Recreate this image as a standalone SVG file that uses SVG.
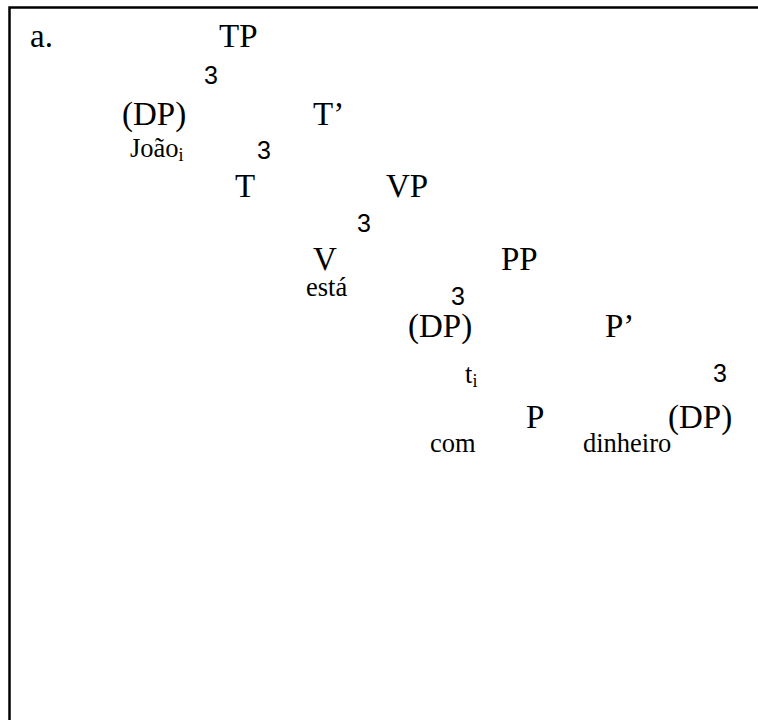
<svg xmlns="http://www.w3.org/2000/svg" width="758" height="720" viewBox="0 0 758 720">
<style>
.lab{font-family:"Liberation Serif","Times New Roman",serif;font-size:33px;fill:#000}
.word{font-family:"Liberation Serif","Times New Roman",serif;font-size:26.5px;fill:#000}
.sub{font-size:18px}
.br{font-family:"Liberation Sans",Arial,sans-serif;font-size:25px;fill:#000}
.frame{fill:none;stroke:#000;stroke-width:2.5}
</style>
<rect width="758" height="720" fill="#fff"/>
<path class="frame" d="M9.5,720 V7.5 H758"/>
<text class="lab" x="30" y="47">a.</text>
<g id="TP"><text class="lab" x="219" y="47">TP</text></g>
<g id="DP1"><text class="lab" x="122" y="125">(DP)</text><text class="word" x="130" y="157">João<tspan class="sub" dy="4">i</tspan></text></g>
<g id="Tbar"><text class="lab" x="313" y="125">T’</text></g>
<g id="T"><text class="lab" x="235" y="197">T</text></g>
<g id="VP"><text class="lab" x="386" y="197">VP</text></g>
<g id="V"><text class="lab" x="313" y="270">V</text><text class="word" x="306" y="296">está</text></g>
<g id="PP"><text class="lab" x="501" y="270">PP</text></g>
<g id="DP2"><text class="lab" x="408" y="337">(DP)</text><text class="word" x="465" y="383">t<tspan class="sub" dy="4">i</tspan></text></g>
<g id="Pbar"><text class="lab" x="605" y="337">P’</text></g>
<g id="P"><text class="lab" x="526" y="428">P</text><text class="word" x="430" y="452">com</text></g>
<g id="DP3"><text class="lab" x="668" y="428">(DP)</text><text class="word" x="583" y="452">dinheiro</text></g>
<g id="connectors">
<text class="br" x="204" y="84">3</text>
<text class="br" x="257" y="159">3</text>
<text class="br" x="357" y="232">3</text>
<text class="br" x="451" y="305">3</text>
<text class="br" x="713" y="382">3</text>
</g>
</svg>
